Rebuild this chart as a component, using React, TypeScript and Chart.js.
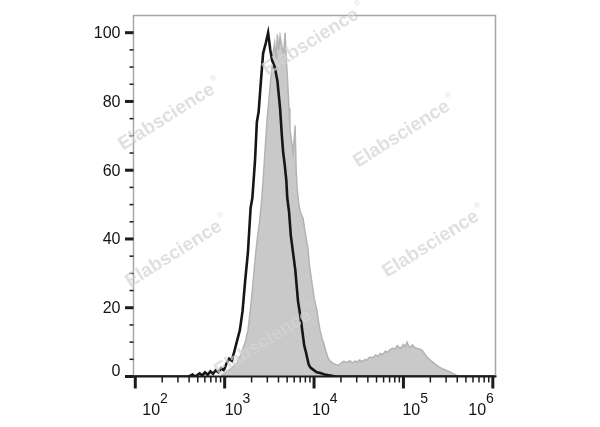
import React, { useEffect, useRef } from "react";
import { Chart, registerables } from "chart.js";

Chart.register(...registerables);

// Black (control) histogram: log10(fluorescence) and % of max
const controlExp = [1.98, 2.6, 2.64, 2.67, 2.72, 2.75, 2.78, 2.81, 2.84, 2.87, 2.9, 2.93, 2.96, 2.99, 3.02, 3.05, 3.08, 3.11, 3.14, 3.17, 3.2, 3.23, 3.26, 3.29, 3.31, 3.34, 3.36, 3.38, 3.4, 3.43, 3.46, 3.486, 3.51, 3.53, 3.56, 3.59, 3.62, 3.64, 3.655, 3.67, 3.69, 3.7, 3.72, 3.74, 3.77, 3.79, 3.82, 3.85, 3.87, 3.89, 3.91, 3.94, 3.96, 3.99, 4.03, 4.07, 4.12, 4.18, 4.24, 6.03];
const controlVal = [0, 0, 0.6, 0, 0.9, 0.3, 1.2, 0.5, 1.5, 0.8, 1.8, 1.2, 2.4, 1.8, 3.8, 5.2, 4.6, 7.5, 10.5, 13.5, 19, 28, 36, 49, 52, 63, 74, 77, 84, 94, 97, 100, 95, 92, 90, 86, 78, 70, 65, 62, 57, 52, 48, 41, 35, 31, 22, 17, 13, 9, 7, 3.5, 2.6, 2, 1.2, 1.0, 0.6, 0.3, 0, 0];

// Gray (stained) histogram
const stainedExp = [2.95, 2.98, 3.03, 3.08, 3.14, 3.19, 3.23, 3.26, 3.29, 3.32, 3.34, 3.36, 3.39, 3.41, 3.43, 3.45, 3.475, 3.49, 3.51, 3.53, 3.54, 3.56, 3.575, 3.59, 3.605, 3.62, 3.64, 3.66, 3.676, 3.69, 3.7, 3.72, 3.73, 3.75, 3.765, 3.78, 3.788, 3.8, 3.81, 3.83, 3.844, 3.86, 3.877, 3.9, 3.933, 3.95, 3.978, 4.0, 4.034, 4.05, 4.067, 4.09, 4.11, 4.13, 4.156, 4.18, 4.212, 4.24, 4.268, 4.3, 4.33, 4.37, 4.4, 4.43, 4.46, 4.48, 4.51, 4.54, 4.57, 4.59, 4.62, 4.66, 4.69, 4.72, 4.74, 4.77, 4.8, 4.82, 4.85, 4.88, 4.91, 4.93, 4.96, 4.98, 5.0, 5.02, 5.04, 5.06, 5.08, 5.1, 5.13, 5.15, 5.18, 5.21, 5.24, 5.27, 5.3, 5.33, 5.37, 5.41, 5.45, 5.49, 5.52, 5.55, 5.58, 5.6, 5.63];
const stainedVal = [0, 0.5, 1.5, 2.5, 4, 7, 10, 13.4, 20, 28, 34, 39, 45, 50, 57, 65, 75, 79, 85, 90, 94, 97, 92, 99.5, 95, 99, 96, 94, 100, 92, 88, 78, 72, 68, 65, 70, 73, 60, 55, 50, 48, 47, 46, 42, 37, 32, 27, 23, 19, 16, 13.4, 11, 9.6, 7.5, 5.5, 4.5, 3.8, 3.5, 3.2, 3.8, 4.4, 4.1, 4.6, 3.9, 4.5, 4.1, 4.8, 4.3, 5.0, 4.7, 5.6, 5.5, 6.3, 5.9, 6.7, 6.4, 7.4, 7.0, 7.8, 8.2, 8.0, 9.0, 8.3, 8.5, 9.3, 8.7, 10, 8.8, 8.5, 9.2, 8.4, 8.2, 8.0, 7.6, 6.5, 5.5, 4.8, 4.1, 3.3, 2.6, 2.1, 1.7, 1.3, 0.9, 0.5, 0.2, 0];

const xDecades = [2, 3, 4, 5, 6];
const yTicks = [0, 20, 40, 60, 80, 100];
const watermarkText = "Elabscience";

const FONT = "'Liberation Sans', Arial, sans-serif";

const axesPlugin = {
  id: "flowAxes",
  afterDraw(chart: any) {
    const { ctx, chartArea } = chart;
    const xs = chart.scales.x;
    const ys = chart.scales.y;
    const { left, right, top, bottom } = chartArea;
    ctx.save();
    // frame
    ctx.strokeStyle = "#a6a6a6";
    ctx.lineWidth = 1.5;
    ctx.beginPath();
    ctx.moveTo(left, bottom);
    ctx.lineTo(left, top);
    ctx.lineTo(right, top);
    ctx.lineTo(right, bottom);
    ctx.stroke();
    ctx.strokeStyle = "#1c1c1c";
    ctx.lineWidth = 2;
    ctx.beginPath();
    ctx.moveTo(left - 1, bottom);
    ctx.lineTo(right + 1, bottom);
    ctx.stroke();

    // y ticks
    ctx.strokeStyle = "#1c1c1c";
    for (let v = 0; v <= 100; v += 5) {
      const py = ys.getPixelForValue(v);
      const major = v % 20 === 0;
      ctx.lineWidth = major ? 3 : 1.5;
      ctx.beginPath();
      ctx.moveTo(left - (major ? 8.5 : 4), py);
      ctx.lineTo(left, py);
      ctx.stroke();
    }
    ctx.fillStyle = "#141414";
    ctx.font = `16px ${FONT}`;
    ctx.textAlign = "right";
    ctx.textBaseline = "middle";
    yTicks.forEach((v) => {
      const py = ys.getPixelForValue(v) + (v === 0 ? -5 : 1);
      ctx.fillText(String(v), left - 13, py);
    });

    // x ticks
    xDecades.forEach((d, i) => {
      const px = xs.getPixelForValue(Math.pow(10, d));
      ctx.lineWidth = 3;
      ctx.beginPath();
      ctx.moveTo(px, bottom);
      ctx.lineTo(px, bottom + 12);
      ctx.stroke();
      if (i < xDecades.length - 1) {
        for (let m = 2; m <= 9; m++) {
          const mx = xs.getPixelForValue(m * Math.pow(10, d));
          ctx.lineWidth = 1.5;
          ctx.beginPath();
          ctx.moveTo(mx, bottom);
          ctx.lineTo(mx, bottom + 6);
          ctx.stroke();
        }
      }
    });
    // x labels 10^n
    const offsets = [7, 0, -2, -1, 0];
    xDecades.forEach((d, i) => {
      const px = xs.getPixelForValue(Math.pow(10, d));
      ctx.font = `16px ${FONT}`;
      const baseW = ctx.measureText("10").width;
      ctx.font = `14px ${FONT}`;
      const supW = ctx.measureText(String(d)).width;
      let x0 = px + offsets[i];
      if (i === xDecades.length - 1) x0 = px - baseW - supW + 1;
      ctx.textAlign = "left";
      ctx.textBaseline = "alphabetic";
      ctx.font = `16px ${FONT}`;
      ctx.fillText("10", x0, 415);
      ctx.font = `14px ${FONT}`;
      ctx.fillText(String(d), x0 + baseW, 403);
    });

    // watermarks
    const marks = [
      [170, 115],
      [405, 132],
      [314, 40],
      [177, 252],
      [434, 242],
      [266, 341],
    ];
    ctx.fillStyle = "rgba(212,212,212,0.72)";
    marks.forEach(([cx, cy]) => {
      ctx.save();
      ctx.translate(cx, cy);
      ctx.rotate(-0.56);
      ctx.font = `bold 19px ${FONT}`;
      const w = ctx.measureText(watermarkText).width;
      ctx.font = `8px ${FONT}`;
      const rw = ctx.measureText("®").width;
      const total = w + rw + 2;
      ctx.textAlign = "left";
      ctx.textBaseline = "middle";
      ctx.font = `bold 19px ${FONT}`;
      ctx.fillText(watermarkText, -total / 2, 0);
      ctx.font = `8px ${FONT}`;
      ctx.fillText("®", -total / 2 + w + 2, -8);
      ctx.restore();
    });
    ctx.restore();
  },
};

export default function App() {
  const ref = useRef<HTMLCanvasElement>(null);
  useEffect(() => {
    if (!ref.current) return;
    const chart = new Chart(ref.current, {
      type: "line",
      data: {
        datasets: [
          {
            label: "Control",
            data: controlExp.map((e, i) => ({ x: Math.pow(10, e), y: controlVal[i] })),
            borderColor: "#161616",
            borderWidth: 2.6,
            fill: false,
            pointRadius: 0,
            tension: 0,
          },
          {
            label: "Stained",
            data: stainedExp.map((e, i) => ({ x: Math.pow(10, e), y: stainedVal[i] })),
            borderColor: "#b3b3b3",
            backgroundColor: "#c9c9c9",
            borderWidth: 1.5,
            fill: "origin",
            pointRadius: 0,
            tension: 0,
          },
        ],
      },
      options: {
        responsive: false,
        devicePixelRatio: 1,
        animation: false,
        layout: { padding: { left: 133.5, right: 104.5, top: 15.5, bottom: 50.5 } },
        plugins: { legend: { display: false }, tooltip: { enabled: false } },
        scales: {
          x: { type: "logarithmic", min: Math.pow(10, 1.98), max: Math.pow(10, 6.03), display: false },
          y: { type: "linear", min: 0, max: 105, display: false },
        },
      },
      plugins: [axesPlugin],
    });
    return () => chart.destroy();
  }, []);
  return (
    <div style={{ position: "fixed", left: 0, top: 0, width: 600, height: 427, background: "#fff" }}>
      <canvas ref={ref} width={600} height={427} style={{ display: "block", width: 600, height: 427 }} />
    </div>
  );
}
